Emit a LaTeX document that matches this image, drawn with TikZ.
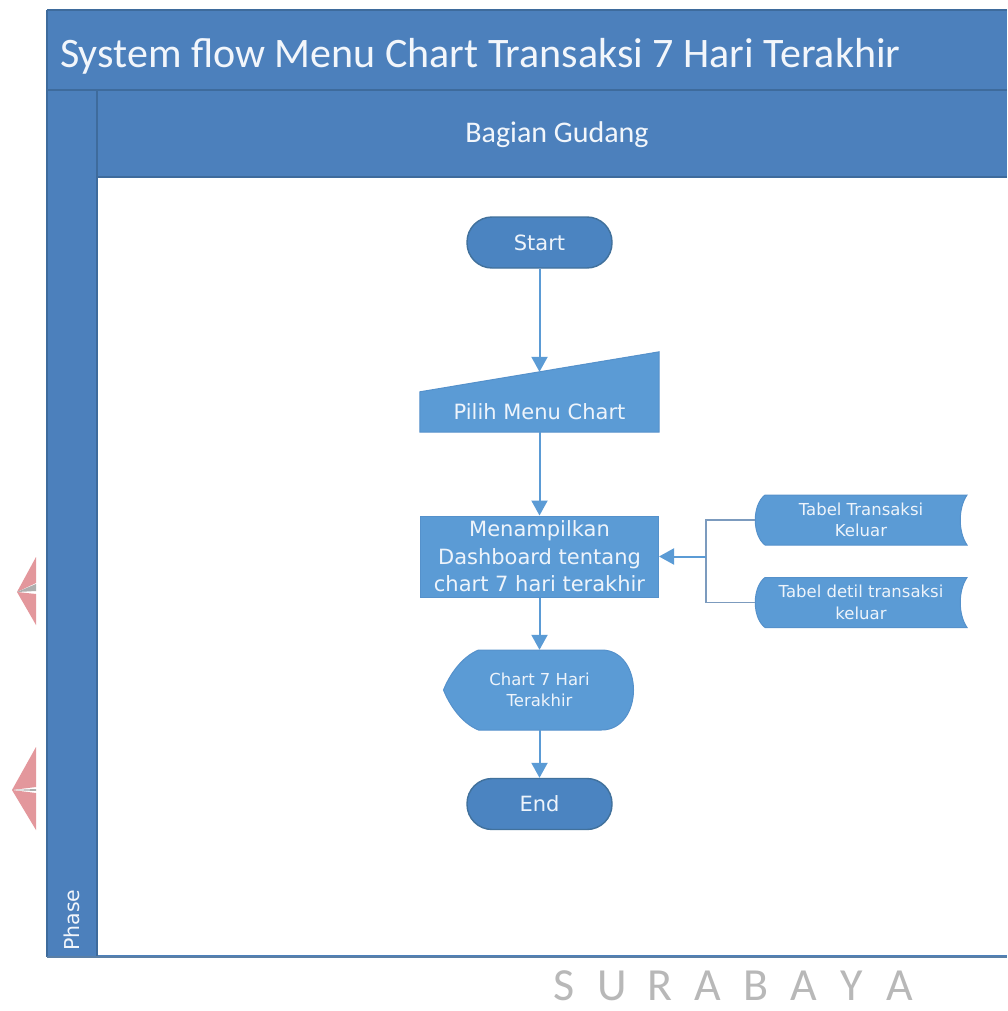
\documentclass[tikz,border=0pt]{standalone}
\usepackage{fontspec}
\setmainfont{DejaVu Sans}
\newfontfamily\calibri{Carlito}
\usetikzlibrary{arrows.meta,calc}
\pgfdeclarelayer{frame}
\pgfdeclarelayer{shapes}
\pgfsetlayers{frame,shapes,main}

\definecolor{band}{HTML}{4C80BC}
\definecolor{sepline}{HTML}{3E6B9C}
\definecolor{bottomline}{HTML}{5A7FA6}
\definecolor{titletext}{HTML}{F2F6FB}
\definecolor{termfill}{HTML}{4B84C1}
\definecolor{termline}{HTML}{41719C}
\definecolor{shapefill}{HTML}{5B9BD5}
\definecolor{shapeline}{HTML}{5591CB}
\definecolor{nodetext}{HTML}{EEF4FB}
\definecolor{linkblue}{HTML}{5B9BD5}
\definecolor{joingray}{HTML}{7C9BBE}
\definecolor{wmpink}{HTML}{E3979C}
\definecolor{wmgray}{HTML}{AEAEAE}
\definecolor{wmtext}{HTML}{B8B8B8}

\begin{document}
\begin{tikzpicture}[x=1pt,y=-1pt,
  flow/.style={draw=linkblue, line width=2pt, -{Triangle[length=15pt,width=16pt]}},
  joinline/.style={draw=joingray, line width=1.8pt},
  sep/.style={draw=sepline, line width=1.2pt},
  term/.style={rectangle, rounded corners=25pt, minimum width=145pt, minimum height=51pt,
    fill=termfill, draw=termline, line width=1.4pt, text=nodetext, inner sep=0pt,
    font=\fontsize{21}{26}\selectfont},
  procbox/.style={rectangle, fill=shapefill, draw=shapeline, line width=1pt,
    minimum width=238pt, minimum height=81pt, align=center, text=nodetext, inner sep=0pt,
    font=\fontsize{21}{27.5}\selectfont},
  txtonly/.style={inner sep=0pt, align=center, text=nodetext},
  bigtext/.style={font=\fontsize{21}{26}\selectfont},
  smalltext/.style={font=\fontsize{16.5}{21.5}\selectfont},
  shapepaint/.style={fill=shapefill, draw=shapeline, line width=1pt},
  sura/.style={anchor=base, inner sep=0pt, text=wmtext, font=\calibri\fontsize{46}{50}\selectfont}
]
\useasboundingbox (0,0) rectangle (1007,1011);

% swimlane frame
\begin{pgfonlayer}{frame}
  \fill[white] (0,0) rectangle (1007,1011);
  \fill[band] (47,10) rectangle (1007,957);
  \fill[white] (98,177) rectangle (1007,955);
  \draw[sep] (47,10) -- (1007,10);
  \draw[sep] (47,10) -- (47,957);
  \draw[sep] (47,90) -- (1007,90);
  \draw[sep] (97,90) -- (97,957);
  \draw[sep] (98,177) -- (1007,177);
  \draw[draw=bottomline, line width=2.5pt] (47,957) -- (1007,957);
  % watermark fragments at the left edge
  \fill[wmpink] (17,592) -- (36,557) -- (36,583) -- cycle;
  \fill[wmgray] (17,592) -- (36,584) -- (36,591) -- cycle;
  \fill[wmpink] (17,592) -- (36,594) -- (36,625) -- cycle;
  \fill[wmpink] (12,790) -- (36,747) -- (36,787) -- cycle;
  \fill[wmgray] (12,790) -- (36,789) -- (36,791) -- cycle;
  \fill[wmpink] (12,790) -- (36,793) -- (36,830) -- cycle;
\end{pgfonlayer}

% headings
\node[anchor=base west, inner sep=0pt, text=titletext, font=\calibri\fontsize{42}{50}\selectfont]
  (title) at (60,68) {System flow Menu Chart Transaksi 7 Hari Terakhir};
\node[inner sep=0pt, text=titletext, font=\calibri\fontsize{30}{36}\selectfont]
  (lane) at (557,135) {Bagian Gudang};
\node[rotate=90, inner sep=0pt, text=titletext, font=\fontsize{20.5}{24}\selectfont]
  (phase) at (72,920) {Phase};

% flowchart nodes
\node[term] (start) at (539.5,242.5) {Start};
\node[txtonly, bigtext, minimum width=239pt, minimum height=40pt] (mi) at (539.5,412) {Pilih Menu Chart};
\node[procbox] (proc) at (539.5,556.5) {Menampilkan\\Dashboard tentang\\chart 7 hari terakhir};
\node[txtonly, smalltext, minimum width=212pt, minimum height=50pt] (t1) at (861,520) {Tabel Transaksi\\Keluar};
\node[txtonly, smalltext, minimum width=212pt, minimum height=51pt] (t2) at (861,602.5) {Tabel detil transaksi\\keluar};
\node[txtonly, smalltext, minimum width=190pt, minimum height=80pt] (disp) at (539.5,690) {Chart 7 Hari\\Terakhir};
\node[term] (end) at (539.5,804) {End};

% custom outlines behind the text nodes
\begin{pgfonlayer}{shapes}
  % manual input
  \path[shapepaint] (mi.south west) -- (mi.south east) -- ($(mi.north east)+(0,-40)$)
    -- (mi.north west) -- cycle;
  % stored data
  \foreach \t in {t1,t2}{
    \path[shapepaint, shift={(\t.center)}]
      (-96,-25) -- (106,-25) .. controls (97,-12) and (97,12) .. (106,25)
      -- (-96,25) .. controls (-109,15) and (-109,-15) .. (-96,-25) -- cycle;
  }
  % display
  \path[shapepaint, shift={(disp.center)}]
    (-61,-40) -- (62,-40) .. controls (83,-40) and (94,-20) .. (94,0)
    .. controls (94,20) and (83,40) .. (62,40) -- (-61,40)
    .. controls (-78,33) and (-90,15) .. (-96,0)
    .. controls (-90,-15) and (-78,-33) .. (-61,-40) -- cycle;
\end{pgfonlayer}

% connection points
\path (mi.north west) -- ($(mi.north east)+(0,-40)$) coordinate[pos=0.5] (mi-in);
\coordinate (jn) at ($(proc.east)+(47,0)$);

% connectors
\draw[flow] (start.south) -- (mi-in);
\draw[flow] (mi.south) -- (proc.north);
\draw[joinline] (t1.west) -| (jn);
\draw[joinline] (t2.west) -| (jn);
\draw[flow] (jn) -- (proc.east);
\draw[flow] (proc.south) -- (disp.north);
\draw[flow] (disp.south) -- (end.north);

% watermark lettering
\foreach \L [count=\i from 0] in {S,U,R,A,B,A,Y,A}
  \node[sura] (sura\i) at (564+48*\i,1000) {\L};
\end{tikzpicture}
\end{document}
